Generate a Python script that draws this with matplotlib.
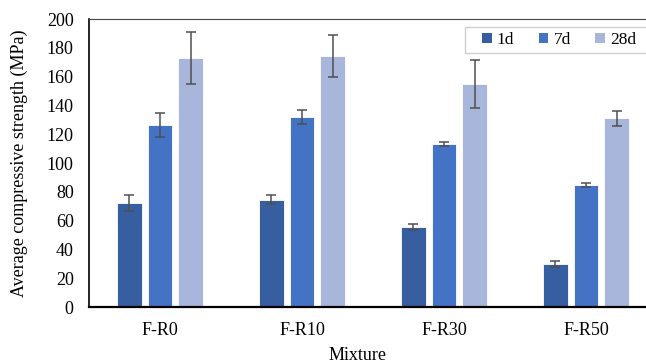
import matplotlib

matplotlib.use("Agg")
import matplotlib.pyplot as plt
import numpy as np
from matplotlib.patches import Rectangle

mixtures = ["F-R0", "F-R10", "F-R30", "F-R50"]
ages = ["1d", "7d", "28d"]
strength_1d = [72.5, 74.5, 55.5, 30.0]
strength_7d = [126.5, 132.0, 113.0, 84.5]
strength_28d = [173.0, 174.5, 155.0, 131.0]
err_1d = [5.5, 3.0, 2.3, 2.0]
err_7d = [8.5, 5.0, 1.5, 1.5]
err_28d = [18.0, 14.5, 16.5, 5.0]
colors = ["#365EA0", "#4472C4", "#A9B6DB"]

plt.rcParams["font.family"] = ["Liberation Serif", "DejaVu Serif"]

fig = plt.figure(figsize=(6.46, 3.64), dpi=100)
ax = fig.add_axes([89 / 646, 57 / 364, 568 / 646, 288 / 364])

x = np.arange(len(mixtures))
width = 0.176
step = 0.218
series = [strength_1d, strength_7d, strength_28d]
errors = [err_1d, err_7d, err_28d]
for i, (vals, errs, label, c) in enumerate(zip(series, errors, ages, colors)):
    ax.bar(x + (i - 1) * step, vals, width, color=c, edgecolor="white",
           linewidth=0.6, label=label,
           yerr=errs, error_kw=dict(ecolor="#505050", elinewidth=1.1,
                                    capsize=3.8, capthick=1.1))

ax.set_xlim(-0.5, 3.5)
ax.set_ylim(0, 200)
ax.set_yticks(range(0, 201, 20))
ax.set_xticks(x)
ax.set_xticklabels(mixtures)
ax.tick_params(axis="both", length=0, labelsize=13)
ax.tick_params(axis="y", pad=11)
ax.tick_params(axis="x", pad=11)
for s in ["left", "top", "bottom", "right"]:
    ax.spines[s].set_color("black")
ax.spines["left"].set_linewidth(1.2)
ax.spines["bottom"].set_linewidth(1.6)
ax.spines["top"].set_linewidth(0.8)
ax.spines["top"].set_color("#444444")

ax.set_ylabel("Average compressive strength (MPa)", fontsize=13)
ax.yaxis.set_label_coords(-0.108, 0.5)
ax.set_xlabel("Mixture", fontsize=13)
ax.xaxis.set_label_coords(0.472, -0.14)

# legend box (frame drawn separately so it runs off the right edge)
ax.add_patch(Rectangle((0.662, 0.882), 0.36, 0.09, transform=ax.transAxes,
                       facecolor="white", edgecolor="#CFCFCF", linewidth=1.0,
                       clip_on=False, zorder=4))
leg = ax.legend(loc="center left", bbox_to_anchor=(0.692, 0.927), ncol=3,
                fontsize=12.5, frameon=False, handlelength=0.55,
                handleheight=0.55, handletextpad=0.3, columnspacing=1.4,
                borderpad=0, borderaxespad=0)
leg.set_zorder(5)
for h in leg.legend_handles:
    h.set_edgecolor("none")

fig.savefig("out.png", dpi=100)
